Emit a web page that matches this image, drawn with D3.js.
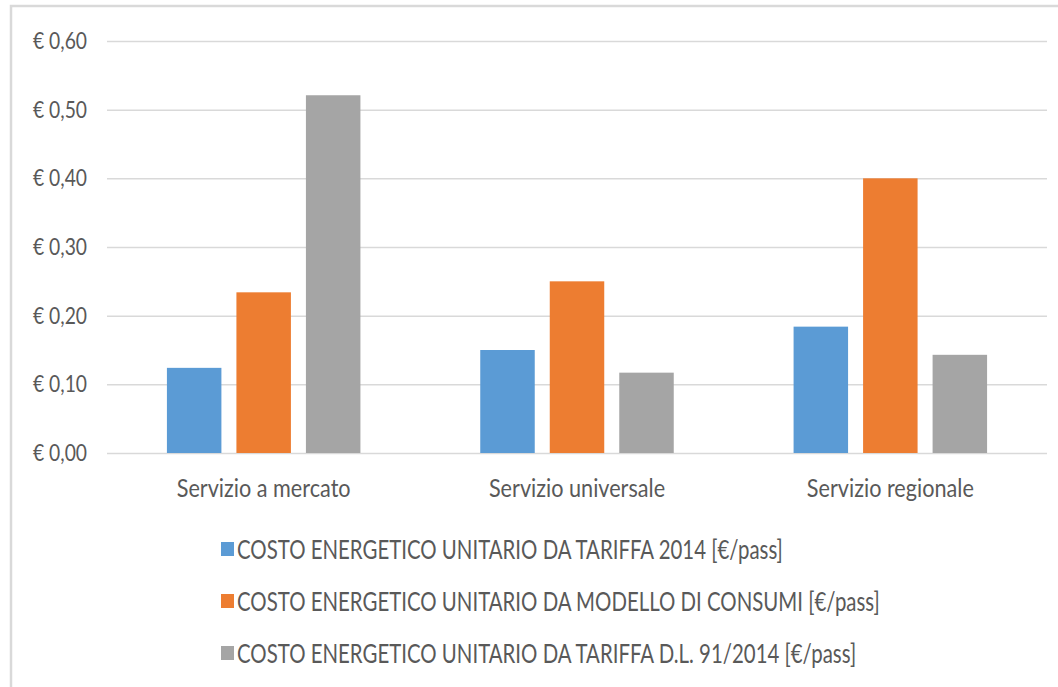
<!DOCTYPE html>
<html>
<head>
<meta charset="utf-8">
<script src="https://cdn.jsdelivr.net/npm/d3@7"></script>
<style>
  html, body { margin: 0; padding: 0; background: #fff; }
  svg { display: block; }
  text { font-family: Lato, "Open Sans", sans-serif; fill: #595959; }
</style>
</head>
<body>
<svg id="chart" width="1058" height="687"></svg>
<script>
// Energy cost per passenger, three service types
const categories = ["Servizio a mercato", "Servizio universale", "Servizio regionale"];
const seriesNames = [
  "COSTO ENERGETICO UNITARIO DA TARIFFA 2014 [€/pass]",
  "COSTO ENERGETICO UNITARIO DA MODELLO DI CONSUMI [€/pass]",
  "COSTO ENERGETICO UNITARIO DA TARIFFA D.L. 91/2014 [€/pass]"
];
const tariffa2014 = [0.124, 0.150, 0.184];
const modelloConsumi = [0.234, 0.250, 0.400];
const tariffaDL91 = [0.521, 0.117, 0.143];
const yTicks = [0, 0.1, 0.2, 0.3, 0.4, 0.5, 0.6];
const colors = ["#5b9bd5", "#ed7d31", "#a5a5a5"];

const seriesValues = [tariffa2014, modelloConsumi, tariffaDL91];
const rows = categories.map((c, i) => ({
  category: c,
  values: seriesValues.map((s, j) => ({ series: j, value: s[i] }))
}));

const svg = d3.select("#chart");

// outer frame
svg.append("rect")
  .attr("x", 11).attr("y", 6)
  .attr("width", 1100).attr("height", 760)
  .attr("fill", "none")
  .attr("stroke", "#d9d9d9")
  .attr("stroke-width", 2.5);

const plot = { left: 107, right: 1047, top: 41, bottom: 453 };

const x = d3.scaleBand().domain(categories).range([plot.left, plot.right]).padding(0);
const groupWidth = 193.5;
const xs = d3.scaleBand().domain(d3.range(3)).range([-groupWidth / 2, groupWidth / 2])
  .paddingInner(0.216).paddingOuter(0);
const y = d3.scaleLinear().domain([0, 0.6]).range([plot.bottom, plot.top]);

const fmt = v => "€ " + d3.format(".2f")(v).replace(".", ",");

// condensed type: squeeze each label horizontally by a fixed factor
function condense(sel, factor) {
  sel.each(function () {
    const n = this.getComputedTextLength();
    d3.select(this).attr("textLength", n * factor).attr("lengthAdjust", "spacingAndGlyphs");
  });
}

// gridlines and y labels
const yAxis = d3.axisLeft(y).tickValues(yTicks).tickSize(-(plot.right - plot.left)).tickFormat(fmt).tickPadding(20);
const gy = svg.append("g").attr("transform", `translate(${plot.left},0)`).call(yAxis);
gy.select(".domain").remove();
gy.selectAll(".tick line").attr("stroke", "#d9d9d9").attr("stroke-width", 1.5);
gy.selectAll(".tick text")
  .attr("font-size", 23.5)
  .attr("fill", "#595959")
  .style("font-family", "Lato, sans-serif")
  .call(condense, 0.82);

// bars
const groups = svg.append("g").selectAll("g").data(rows).join("g")
  .attr("transform", d => `translate(${x(d.category) + x.bandwidth() / 2},0)`);
groups.selectAll("rect").data(d => d.values).join("rect")
  .attr("x", d => xs(d.series))
  .attr("width", xs.bandwidth())
  .attr("y", d => y(d.value))
  .attr("height", d => y(0) - y(d.value))
  .attr("fill", d => colors[d.series]);

// category labels
const xAxis = d3.axisBottom(x).tickSize(0).tickPadding(26);
const gx = svg.append("g").attr("transform", `translate(0,${plot.bottom})`).call(xAxis);
gx.select(".domain").remove();
gx.selectAll(".tick text")
  .attr("font-size", 25)
  .attr("fill", "#595959")
  .style("font-family", "Lato, sans-serif")
  .call(condense, 0.865);

// legend
const legend = svg.append("g").selectAll("g").data(seriesNames).join("g")
  .attr("transform", (d, i) => `translate(221,${549 + i * 52})`);
legend.append("rect")
  .attr("x", 0).attr("y", -7).attr("width", 13).attr("height", 14)
  .attr("fill", (d, i) => colors[i]);
legend.append("text")
  .attr("x", 16).attr("y", 0).attr("dy", "0.36em")
  .attr("font-size", 26.5)
  .text(d => d)
  .call(condense, 0.77);
</script>
</body>
</html>
